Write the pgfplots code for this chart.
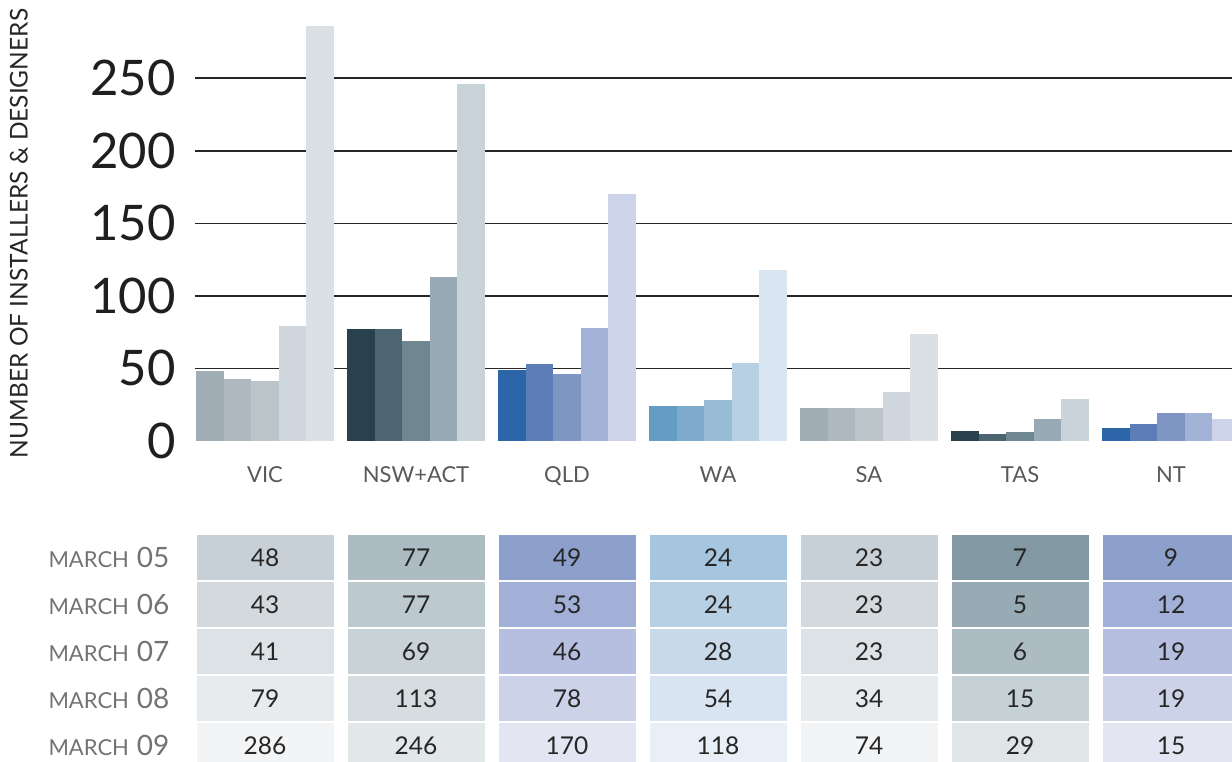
\documentclass[border=0pt]{standalone}
\usepackage{pgfplots}
\usepackage{pgfplotstable}
\usepackage{fontspec}
\setmainfont{Lato}
\pgfplotsset{compat=1.18}

% bar colours
\definecolor{va}{HTML}{A0ADB4}\definecolor{vb}{HTML}{ADB8BF}\definecolor{vc}{HTML}{BAC4C9}\definecolor{vd}{HTML}{CFD6DD}\definecolor{ve}{HTML}{DBE0E4}
\definecolor{na}{HTML}{28414D}\definecolor{nb}{HTML}{4D6571}\definecolor{nc}{HTML}{6F8791}\definecolor{nd}{HTML}{98AAB5}\definecolor{ne}{HTML}{C8D3DA}
\definecolor{qa}{HTML}{2C65A8}\definecolor{qb}{HTML}{5D7DB8}\definecolor{qc}{HTML}{7F96C5}\definecolor{qd}{HTML}{A3B3D7}\definecolor{qe}{HTML}{CDD3E9}
\definecolor{wa}{HTML}{639DC3}\definecolor{wb}{HTML}{7EABCC}\definecolor{wc}{HTML}{98BBD6}\definecolor{wd}{HTML}{B8D0E4}\definecolor{we}{HTML}{D9E5F1}
% table colours
\definecolor{tv0}{HTML}{C8D0D7}\definecolor{tv1}{HTML}{D3D9DD}\definecolor{tv2}{HTML}{DDE2E6}\definecolor{tv3}{HTML}{E8EBEE}\definecolor{tv4}{HTML}{F3F4F6}
\definecolor{tn0}{HTML}{ADBCC3}\definecolor{tn1}{HTML}{BCCACF}\definecolor{tn2}{HTML}{C9D2D7}\definecolor{tn3}{HTML}{D6DDE1}\definecolor{tn4}{HTML}{E2E7EA}
\definecolor{tq0}{HTML}{8DA0CC}\definecolor{tq1}{HTML}{A2B0D7}\definecolor{tq2}{HTML}{B6BFDF}\definecolor{tq3}{HTML}{CCD2E8}\definecolor{tq4}{HTML}{E3E5F2}
\definecolor{tw0}{HTML}{A6C6DF}\definecolor{tw1}{HTML}{B8D0E4}\definecolor{tw2}{HTML}{C8D9EA}\definecolor{tw3}{HTML}{D8E4F1}\definecolor{tw4}{HTML}{E8EFF7}
\definecolor{tt0}{HTML}{8298A3}\definecolor{tt1}{HTML}{98AAB4}\definecolor{tt2}{HTML}{ADBCC3}\definecolor{tt3}{HTML}{C6D1D6}\definecolor{tt4}{HTML}{E0E5E8}

\pgfplotstableread{
x y m
0 204.5 48:tv0
0 157.5 43:tv1
0 110.5 41:tv2
0 63.5 79:tv3
0 16.5 286:tv4
1 204.5 77:tn0
1 157.5 77:tn1
1 110.5 69:tn2
1 63.5 113:tn3
1 16.5 246:tn4
2 204.5 49:tq0
2 157.5 53:tq1
2 110.5 46:tq2
2 63.5 78:tq3
2 16.5 170:tq4
3 204.5 24:tw0
3 157.5 24:tw1
3 110.5 28:tw2
3 63.5 54:tw3
3 16.5 118:tw4
4 204.5 23:tv0
4 157.5 23:tv1
4 110.5 23:tv2
4 63.5 34:tv3
4 16.5 74:tv4
5 204.5 7:tt0
5 157.5 5:tt1
5 110.5 6:tt2
5 63.5 15:tt3
5 16.5 29:tt4
6 204.5 9:tq0
6 157.5 12:tq1
6 110.5 19:tq2
6 63.5 19:tq3
6 16.5 15:tq4
}\tabledata

\def\cell#1:#2\relax{{\setlength\fboxsep{0pt}\colorbox{#2}{\parbox[c][45pt][c]{137pt}{\centering #1}}}}
\newcommand{\B}[3]{\addplot[ybar,bar width=0.1828,bar shift=0pt,fill=#3,draw=none] coordinates {(#1,#2)};}
\newcommand{\mlab}[1]{{\fontsize{22}{22}\selectfont MARCH}\hspace{8pt}{\fontsize{28}{28}\selectfont #1}}

\begin{document}
\begin{tikzpicture}
\begin{axis}[
  at={(195pt,321pt)}, anchor=south west, scale only axis,
  width=1037pt, height=415pt,
  xmin=-0.4636, xmax=6.404, ymin=0, ymax=286,
  axis line style={draw=none}, major tick length=0pt,
  ytick={50,100,150,200,250}, extra y ticks={0}, extra y tick style={grid=none},
  ymajorgrids, grid style={line width=1.5pt, color=black!85},
  /pgf/number format/assume math mode=true,
  yticklabel style={font=\fontsize{49}{49}\selectfont, text=black!88, anchor=east, xshift=-16pt},
  xtick={0,1,2,3,4,5,6}, xticklabels={VIC,NSW+ACT,QLD,WA,SA,TAS,NT},
  xticklabel style={font=\fontsize{22}{22}\selectfont, text=black!65, yshift=-22pt},
  ylabel={NUMBER OF INSTALLERS \& DESIGNERS},
  ylabel style={at={(axis description cs:-0.1698,0.5)}, anchor=center, font=\fontsize{24.5}{24.5}\selectfont, text=black!85},
  clip=true,
]
\B{-0.3656}{48}{va}\B{-0.1828}{43}{vb}\B{0}{41}{vc}\B{0.1828}{79}{vd}\B{0.3656}{286}{ve}
\B{0.6344}{77}{na}\B{0.8172}{77}{nb}\B{1}{69}{nc}\B{1.1828}{113}{nd}\B{1.3656}{246}{ne}
\B{1.6344}{49}{qa}\B{1.8172}{53}{qb}\B{2}{46}{qc}\B{2.1828}{78}{qd}\B{2.3656}{170}{qe}
\B{2.6344}{24}{wa}\B{2.8172}{24}{wb}\B{3}{28}{wc}\B{3.1828}{54}{wd}\B{3.3656}{118}{we}
\B{3.6344}{23}{va}\B{3.8172}{23}{vb}\B{4}{23}{vc}\B{4.1828}{34}{vd}\B{4.3656}{74}{ve}
\B{4.6344}{7}{na}\B{4.8172}{5}{nb}\B{5}{6}{nc}\B{5.1828}{15}{nd}\B{5.3656}{29}{ne}
\B{5.6344}{9}{qa}\B{5.8172}{12}{qb}\B{6}{19}{qc}\B{6.1828}{19}{qd}\B{6.3656}{15}{qe}
\end{axis}
\begin{axis}[
  at={(195pt,0pt)}, anchor=south west, scale only axis,
  width=1037pt, height=762pt,
  xmin=-0.4636, xmax=6.404, ymin=0, ymax=762,
  axis line style={draw=none}, major tick length=0pt,
  xtick=\empty,
  ytick={204.5,157.5,110.5,63.5,16.5},
  yticklabels={{\mlab{05}},{\mlab{06}},{\mlab{07}},{\mlab{08}},{\mlab{09}}},
  yticklabel style={text=black!55, anchor=east, xshift=-22pt},
  clip=false,
]
\addplot[draw=none, nodes near coords={\expandafter\cell\pgfplotspointmeta\relax},
  point meta=explicit symbolic,
  every node near coord/.append style={anchor=center, inner sep=0pt, font=\fontsize{24.5}{24.5}\selectfont, text=black!85}]
  table[x=x, y=y, meta=m] {\tabledata};
\end{axis}
\pgfresetboundingbox
\path[use as bounding box] (0,0) rectangle (1232pt,762pt);
\end{tikzpicture}
\end{document}
